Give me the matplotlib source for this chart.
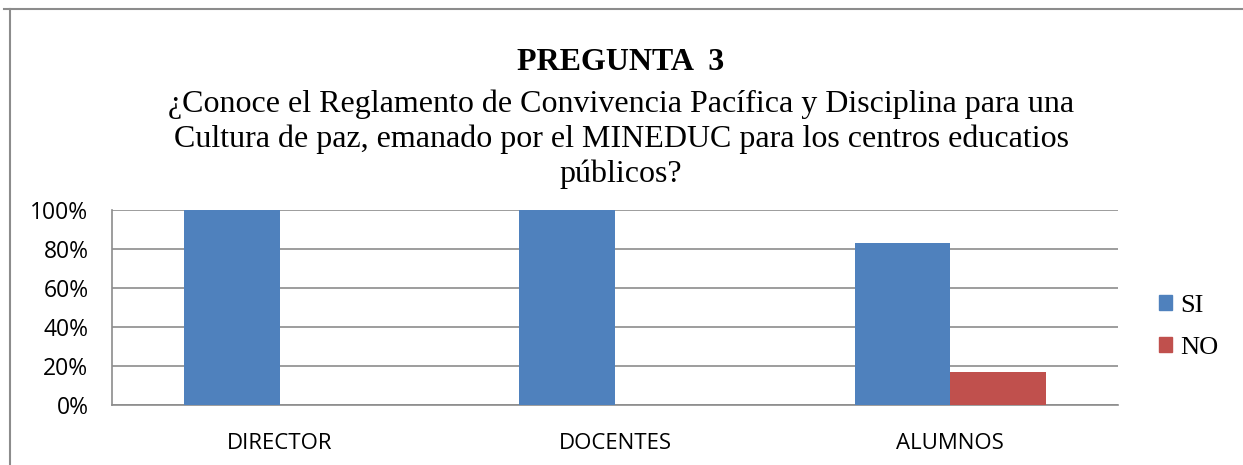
import matplotlib
matplotlib.use("Agg")
import matplotlib.pyplot as plt
import numpy as np
from matplotlib.lines import Line2D
from matplotlib.patches import Patch

categories = ["DIRECTOR", "DOCENTES", "ALUMNOS"]
si_values = [100, 100, 83]
no_values = [0, 0, 17]
yticks = [0, 20, 40, 60, 80, 100]
ytick_labels = ["0%", "20%", "40%", "60%", "80%", "100%"]

fig = plt.figure(figsize=(12.43, 4.65), dpi=100)
ax = fig.add_axes([112/1243, 1-405/465, (1118-112)/1243, 195/465])

x = np.arange(len(categories))
w = 1/3.5
ax.bar(x - w/2, si_values, w, color="#4F81BD", label="SI", zorder=3)
ax.bar(x + w/2, no_values, w, color="#C0504D", label="NO", zorder=3)

ax.set_xlim(-0.5, 2.5)
ax.set_ylim(0, 100)
ax.set_yticks(yticks)
ax.set_yticklabels(ytick_labels, fontsize=16.5, family="Open Sans")
ax.set_xticks(x)
ax.set_xticklabels(categories, fontsize=16, family="Open Sans")
ax.tick_params(axis="both", length=0)
ax.tick_params(axis="y", pad=17)
ax.tick_params(axis="x", pad=20)
ax.yaxis.grid(True, color="#8c8c8c", linewidth=1.2, zorder=0)
for s in ["top", "right"]:
    ax.spines[s].set_visible(False)
for s in ["left", "bottom"]:
    ax.spines[s].set_color("#8c8c8c")
    ax.spines[s].set_linewidth(1.2)

handles = [Patch(color="#4F81BD", label="SI"), Patch(color="#C0504D", label="NO")]
fig.legend(handles=handles, loc="center left", bbox_to_anchor=(1135/1243, 1-327/465),
           frameon=False, prop={"family": "Liberation Serif", "size": 19},
           handlelength=0.5, handleheight=0.5, handletextpad=0.3, labelspacing=0.75)

fig.text(621/1243, 1-62/465, "PREGUNTA  3", ha="center", va="center",
         family="Liberation Serif", fontsize=23, fontweight="bold")
fig.text(621/1243, 1-139/465,
         "¿Conoce el Reglamento de Convivencia Pacífica y Disciplina para una\n"
         "Cultura de paz, emanado por el MINEDUC para los centros educatios\n"
         "públicos?",
         ha="center", va="center", family="Liberation Serif", fontsize=23,
         linespacing=1.25)

fig.add_artist(Line2D([4/1243, 1], [1-9/465, 1-9/465], color="#8c8c8c", linewidth=1.5))
fig.add_artist(Line2D([10/1243, 10/1243], [0, 1-9/465], color="#8c8c8c", linewidth=1.5))

fig.savefig("out.png", dpi=100)
